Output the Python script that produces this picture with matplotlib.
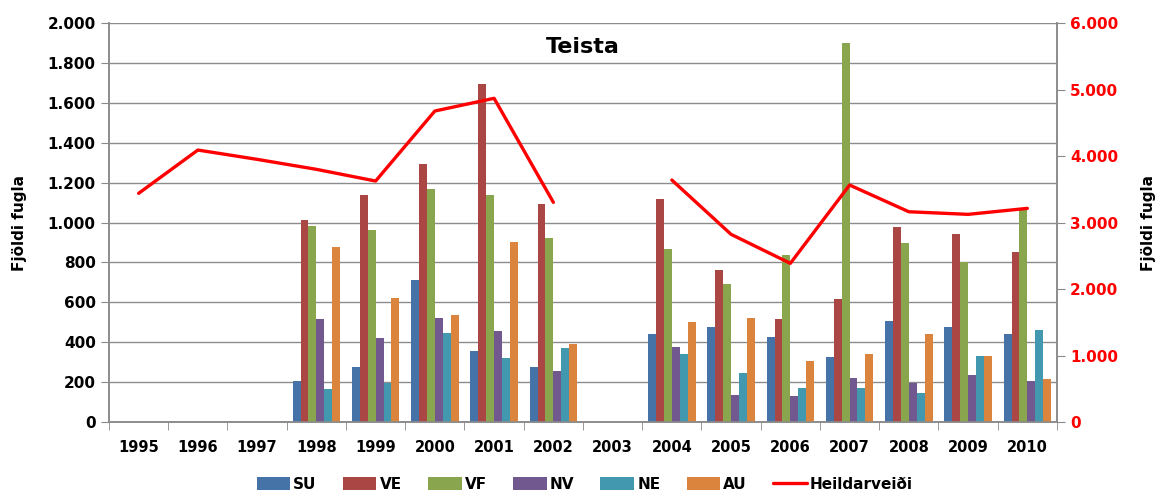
import numpy as np
import matplotlib
matplotlib.use("Agg")
import matplotlib.pyplot as plt

years = [str(y) for y in range(1995, 2011)]

series_names = ["SU", "VE", "VF", "NV", "NE", "AU"]
colors = ["#4572A7", "#AA4643", "#89A54E", "#71588F", "#4198AF", "#DB843D"]

nan = np.nan
# years 1995..2010
SU = [nan, nan, nan, 207, 277, 712, 356, 277, nan, 440, 475, 424, 328, 508, 475, 440]
VE = [nan, nan, nan, 1013, 1138, 1293, 1693, 1091, nan, 1118, 762, 515, 615, 979, 942, 851]
VF = [nan, nan, nan, 984, 962, 1166, 1138, 921, nan, 866, 690, 837, 1898, 896, 800, 1063]
NV = [nan, nan, nan, 515, 423, 523, 458, 257, nan, 374, 135, 130, 222, 194, 236, 206]
NE = [nan, nan, nan, 165, 194, 444, 319, 369, nan, 341, 244, 172, 172, 144, 333, 461]
AU = [nan, nan, nan, 879, 620, 536, 901, 389, nan, 503, 523, 306, 341, 440, 333, 216]
heildarveidi = [3439, 4090, 3950, 3800, 3624, 4677, 4868, 3304, nan,
                3639, 2822, 2386, 3564, 3162, 3123, 3213]

series = [SU, VE, VF, NV, NE, AU]

plt.rcParams['font.family'] = ['DejaVu Sans']
plt.rcParams['font.weight'] = 'bold'

fig = plt.figure(figsize=(11.67, 5.03), dpi=100)
ax = fig.add_axes([0.0934, 0.161, 0.8123, 0.7932])
ax2 = ax.twinx()

x = np.arange(len(years))
w = 0.8 / 6
handles = []
for i, (vals, c, name) in enumerate(zip(series, colors, series_names)):
    b = ax.bar(x - 0.4 + w * (i + 0.5), vals, width=w, color=c, label=name,
               edgecolor='none', zorder=3)
    handles.append(b)

# total catch on the right axis, gap in 2003
ln, = ax2.plot(x, heildarveidi, color='#FF0000', lw=2.4, label='Heildarveiði',
               solid_capstyle='round')
handles.append(ln)

ax.set_xlim(-0.5, len(years) - 0.5)
ax.set_ylim(0, 2000)
ax2.set_ylim(0, 6000)

ax.set_yticks(np.arange(0, 2001, 200))
ax.set_yticklabels([f"{v:,}".replace(",", ".") for v in range(0, 2001, 200)],
                   fontsize=11, fontweight='bold')
ax2.set_yticks(np.arange(0, 6001, 1000))
ax2.set_yticklabels([f"{v:,}".replace(",", ".") for v in range(0, 6001, 1000)],
                    fontsize=11, fontweight='bold', color='#FF0000')

ax.set_xticks(x)
ax.set_xticklabels(years, fontsize=10.5, fontweight='bold')
ax.tick_params(axis='x', which='major', length=0, pad=13)
ax.set_xticks(np.arange(-0.5, len(years), 1), minor=True)
ax.tick_params(axis='x', which='minor', length=6, color='#888888', direction='out')
ax.tick_params(axis='y', length=6, color='#888888', direction='out')
ax2.tick_params(axis='y', length=6, color='#888888', direction='out')

ax.grid(axis='y', color='#8c8c8c', lw=1)
ax.set_axisbelow(True)

for a in (ax, ax2):
    a.spines['top'].set_visible(False)
    for s in ('left', 'right', 'bottom'):
        a.spines[s].set_color('#8c8c8c')
        a.spines[s].set_linewidth(1.2)

ax.set_ylabel("Fjöldi fugla", fontsize=11, fontweight='bold', labelpad=15)
ax2.set_ylabel("Fjöldi fugla", fontsize=11, fontweight='bold', rotation=90,
               labelpad=16)

ax.text(0.5, 0.94, "Teista", transform=ax.transAxes, ha='center', va='center',
        fontsize=16, fontweight='bold')

fig.legend(handles=handles, loc='lower center', bbox_to_anchor=(0.501, -0.005),
           ncol=7, frameon=False, handlelength=2.2, handleheight=1.0,
           columnspacing=1.72, handletextpad=0.2, prop={'weight': 'bold', 'size': 11})

fig.savefig("out.png", dpi=100)
